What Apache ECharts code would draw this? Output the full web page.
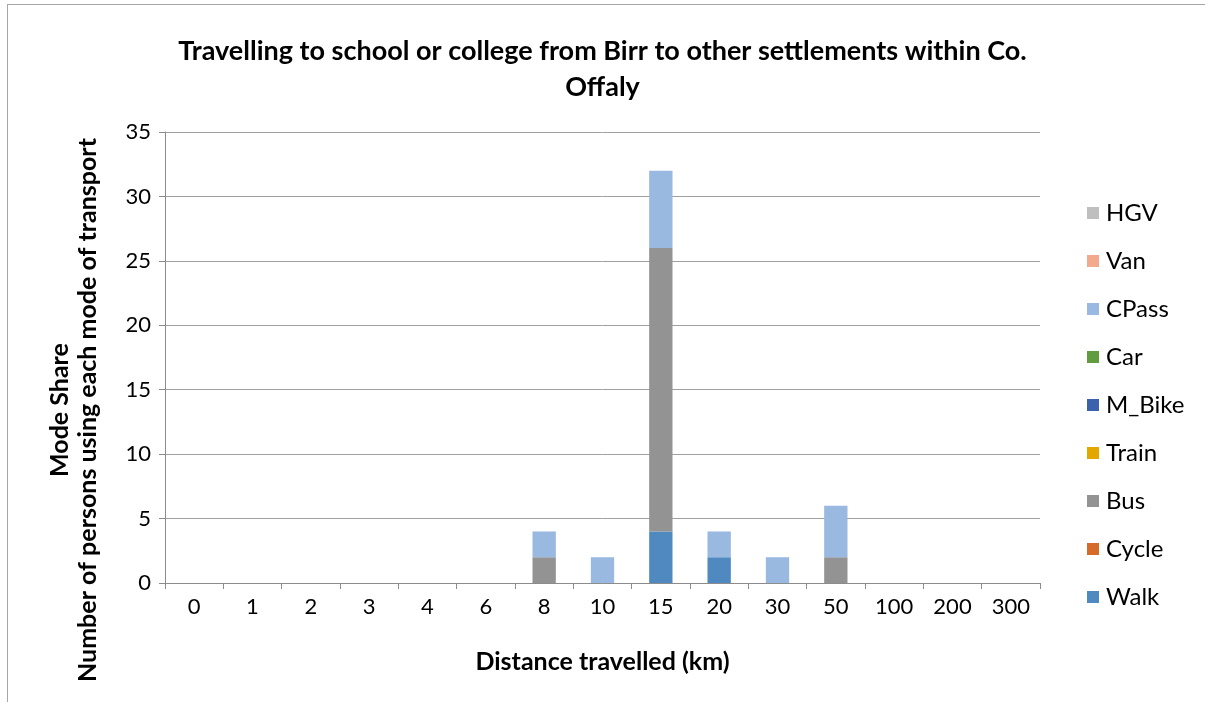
<!DOCTYPE html>
<html><head><meta charset="utf-8">
<script src="https://cdn.jsdelivr.net/npm/echarts@6/dist/echarts.min.js"></script>
<style>
html,body{margin:0;padding:0;background:#fff;}
#frame{position:absolute;left:7px;top:4px;width:1220px;height:720px;border:1px solid #a6a6a6;box-sizing:border-box;}
#c{position:absolute;left:0;top:0;width:1205px;height:702px;}
</style></head>
<body><div id="frame"></div><div id="c"></div>
<script>
const categories = ['0','1','2','3','4','6','8','10','15','20','30','50','100','200','300'];
const Walk   = [0,0,0,0,0,0,0,0,4,2,0,0,0,0,0];
const Cycle  = [0,0,0,0,0,0,0,0,0,0,0,0,0,0,0];
const Bus    = [0,0,0,0,0,0,2,0,22,0,0,2,0,0,0];
const Train  = [0,0,0,0,0,0,0,0,0,0,0,0,0,0,0];
const M_Bike = [0,0,0,0,0,0,0,0,0,0,0,0,0,0,0];
const Car    = [0,0,0,0,0,0,0,0,0,0,0,0,0,0,0];
const CPass  = [0,0,0,0,0,0,2,2,6,2,2,4,0,0,0];
const Van    = [0,0,0,0,0,0,0,0,0,0,0,0,0,0,0];
const HGV    = [0,0,0,0,0,0,0,0,0,0,0,0,0,0,0];
const yTicks = [0,5,10,15,20,25,30,35];

const seriesDefs = [
  ['Walk', Walk, '#4f89bf'],
  ['Cycle', Cycle, '#d46b2a'],
  ['Bus', Bus, '#939393'],
  ['Train', Train, '#e3a800'],
  ['M_Bike', M_Bike, '#3d62ad'],
  ['Car', Car, '#629c40'],
  ['CPass', CPass, '#99b9e0'],
  ['Van', Van, '#f2a98c'],
  ['HGV', HGV, '#bfbfbf']
];
const font = 'Lato, "Open Sans", sans-serif';
const chart = echarts.init(document.getElementById('c'));
chart.setOption({
  animation:false,
  textStyle:{fontFamily:font},
  title:{text:'Travelling to school or college from Birr to other settlements within Co.\nOffaly',
    left:'center', top:28, itemGap:0,
    textStyle:{fontSize:27,fontWeight:'bold',color:'#000',fontFamily:font,lineHeight:36}},
  grid:{left:165,right:165,top:132,bottom:119,containLabel:false},
  legend:{orient:'vertical',left:1082,top:196,itemWidth:12,itemHeight:12,itemGap:24,
    icon:'rect',
    data:seriesDefs.map(s=>s[0]).reverse(),
    textStyle:{fontSize:24,color:'#000',fontFamily:font,padding:[0,0,0,2],lineHeight:24}},
  xAxis:{type:'category',data:categories,
    axisLine:{lineStyle:{color:'#8c8c8c',width:1}},
    axisTick:{show:true,length:6,lineStyle:{color:'#8c8c8c'}},
    axisLabel:{fontSize:22,color:'#000',margin:13,fontFamily:font},
    name:'Distance travelled (km)',nameLocation:'middle',nameGap:66,
    nameTextStyle:{fontSize:25,fontWeight:'bold',color:'#000',fontFamily:font}},
  yAxis:{type:'value',min:yTicks[0],max:yTicks[yTicks.length-1],interval:5,
    axisLine:{show:true,lineStyle:{color:'#8c8c8c'}},
    axisTick:{show:true,length:6,inside:false,lineStyle:{color:'#8c8c8c'}},
    axisLabel:{fontSize:22,color:'#000',margin:14,fontFamily:font},
    splitLine:{lineStyle:{color:'#a0a0a0',width:1}}},
  graphic:[{type:'text',x:74,y:410,rotation:Math.PI/2,
    style:{text:'Mode Share\nNumber of persons using each mode of transport',
      fill:'#000',font:'bold 25px '+font,align:'center',verticalAlign:'middle',lineHeight:28}}],
  series:seriesDefs.map(s=>({name:s[0],type:'bar',stack:'all',data:s[1],
    barWidth:'40%',itemStyle:{color:s[2]}}))
});
</script></body></html>
